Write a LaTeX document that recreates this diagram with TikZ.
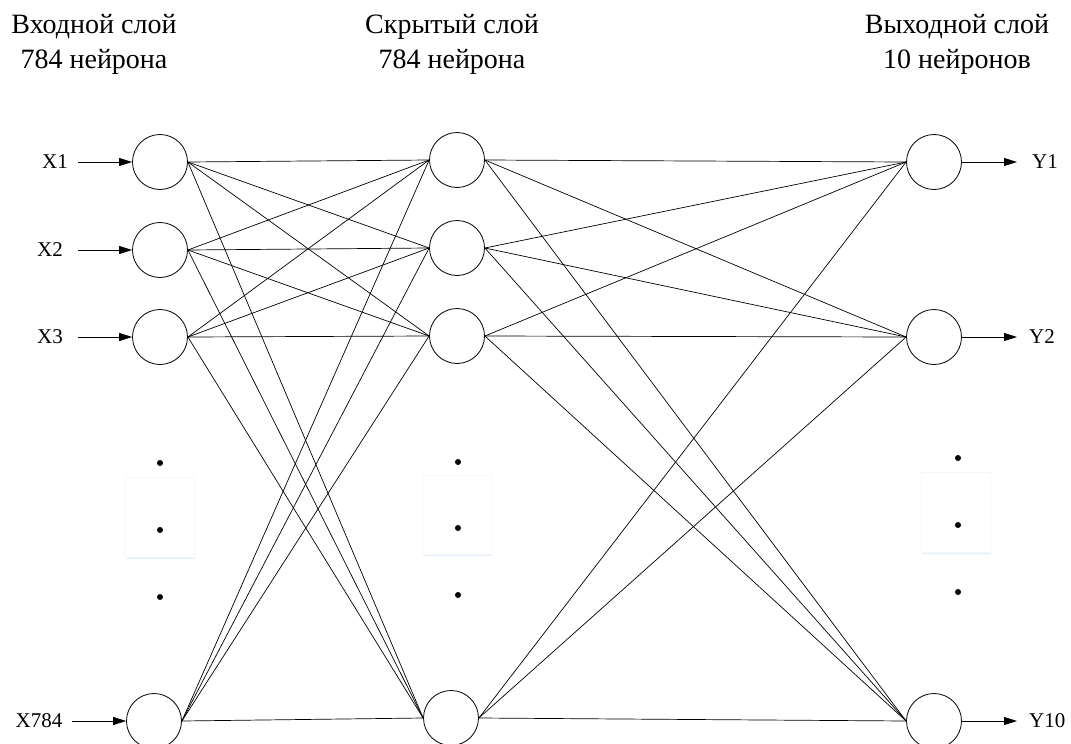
\documentclass[tikz,border=0pt]{standalone}
\usepackage{fontspec}
\setmainfont{Liberation Serif}
\usetikzlibrary{arrows.meta}
\definecolor{shadowblue}{RGB}{230,238,249}
\definecolor{edgeblue}{RGB}{244,248,253}
\tikzset{
  neuron/.style={circle,draw,line width=0.8pt,minimum size=55pt,inner sep=0pt},
  link/.style={line width=0.7pt},
  inarrow/.style={line width=0.8pt,-{Triangle[length=13pt,width=8pt]}},
  title/.style={anchor=base,font=\fontsize{28}{32}\selectfont},
  lbl/.style={font=\fontsize{21}{24}\selectfont,inner sep=0pt},
  dotmark/.style={circle,fill=black,inner sep=0pt,minimum size=6pt},
  panel/.style={fill=white,draw=edgeblue,line width=0.8pt},
}
\begin{document}
\begin{tikzpicture}[x=1pt,y=-1pt]
\useasboundingbox (0,0) rectangle (1071,744);
% faint rectangles behind dots
\fill[shadowblue] (126,479) rectangle (195,559);
\draw[panel] (125,477) rectangle (194,557);
\fill[shadowblue] (423,477) rectangle (492,556);
\draw[panel] (422,475) rectangle (491,554);
\fill[shadowblue] (922,474) rectangle (991,554);
\draw[panel] (921,472) rectangle (990,552);
% titles
\node[title] (t1a) at (94,33) {Входной слой};
\node[title] (t1b) at (94,68) {784 нейрона};
\node[title] (t2a) at (452,33) {Скрытый слой};
\node[title] (t2b) at (452,68) {784 нейрона};
\node[title] (t3a) at (957,33) {Выходной слой};
\node[title] (t3b) at (957,68) {10 нейронов};
% neurons
\node[neuron] (i1) at (160,162) {};
\node[neuron] (i2) at (160,250) {};
\node[neuron] (i3) at (160,337) {};
\node[neuron] (i4) at (154,721) {};
\node[neuron] (h1) at (457,160) {};
\node[neuron] (h2) at (457,248) {};
\node[neuron] (h3) at (457,336) {};
\node[neuron] (h4) at (451,718) {};
\node[neuron] (o1) at (934,162) {};
\node[neuron] (o2) at (934,337) {};
\node[neuron] (o3) at (934,721) {};
% dots
\node[dotmark] (di1) at (160,463) {};
\node[dotmark] (di2) at (160,530) {};
\node[dotmark] (di3) at (160,597) {};
\node[dotmark] (dh1) at (458,462) {};
\node[dotmark] (dh2) at (458,528) {};
\node[dotmark] (dh3) at (458,595) {};
\node[dotmark] (do1) at (958,458) {};
\node[dotmark] (do2) at (958,525) {};
\node[dotmark] (do3) at (958,592) {};
% connections
\foreach \a in {i1,i2,i3,i4}{
  \foreach \b in {h1,h2,h3,h4}{
    \draw[link] (\a.east) -- (\b.west);
  }
}
\foreach \a in {h1,h2,h3,h4}{
  \foreach \b in {o1,o2,o3}{
    \draw[link] (\a.east) -- (\b.west);
  }
}
% input labels and arrows
\node[lbl] (x1) at (55,162) {X1};
\node[lbl] (x2) at (50,250) {X2};
\node[lbl] (x3) at (50,337) {X3};
\node[lbl] (x4) at (39,721) {X784};
\coordinate (a1) at (78,162);
\coordinate (a2) at (78,250);
\coordinate (a3) at (78,337);
\coordinate (a4) at (72,721);
\draw[inarrow] (a1) -- (i1.west);
\draw[inarrow] (a2) -- (i2.west);
\draw[inarrow] (a3) -- (i3.west);
\draw[inarrow] (a4) -- (i4.west);
% outputs
\coordinate (b1) at (1017,162);
\coordinate (b2) at (1017,337);
\coordinate (b3) at (1017,721);
\draw[inarrow] (o1.east) -- (b1);
\draw[inarrow] (o2.east) -- (b2);
\draw[inarrow] (o3.east) -- (b3);
\node[lbl,anchor=west] (y1) at (1032,162) {Y1};
\node[lbl,anchor=west] (y2) at (1029,337) {Y2};
\node[lbl,anchor=west] (y3) at (1029,721) {Y10};
\end{tikzpicture}
\end{document}
